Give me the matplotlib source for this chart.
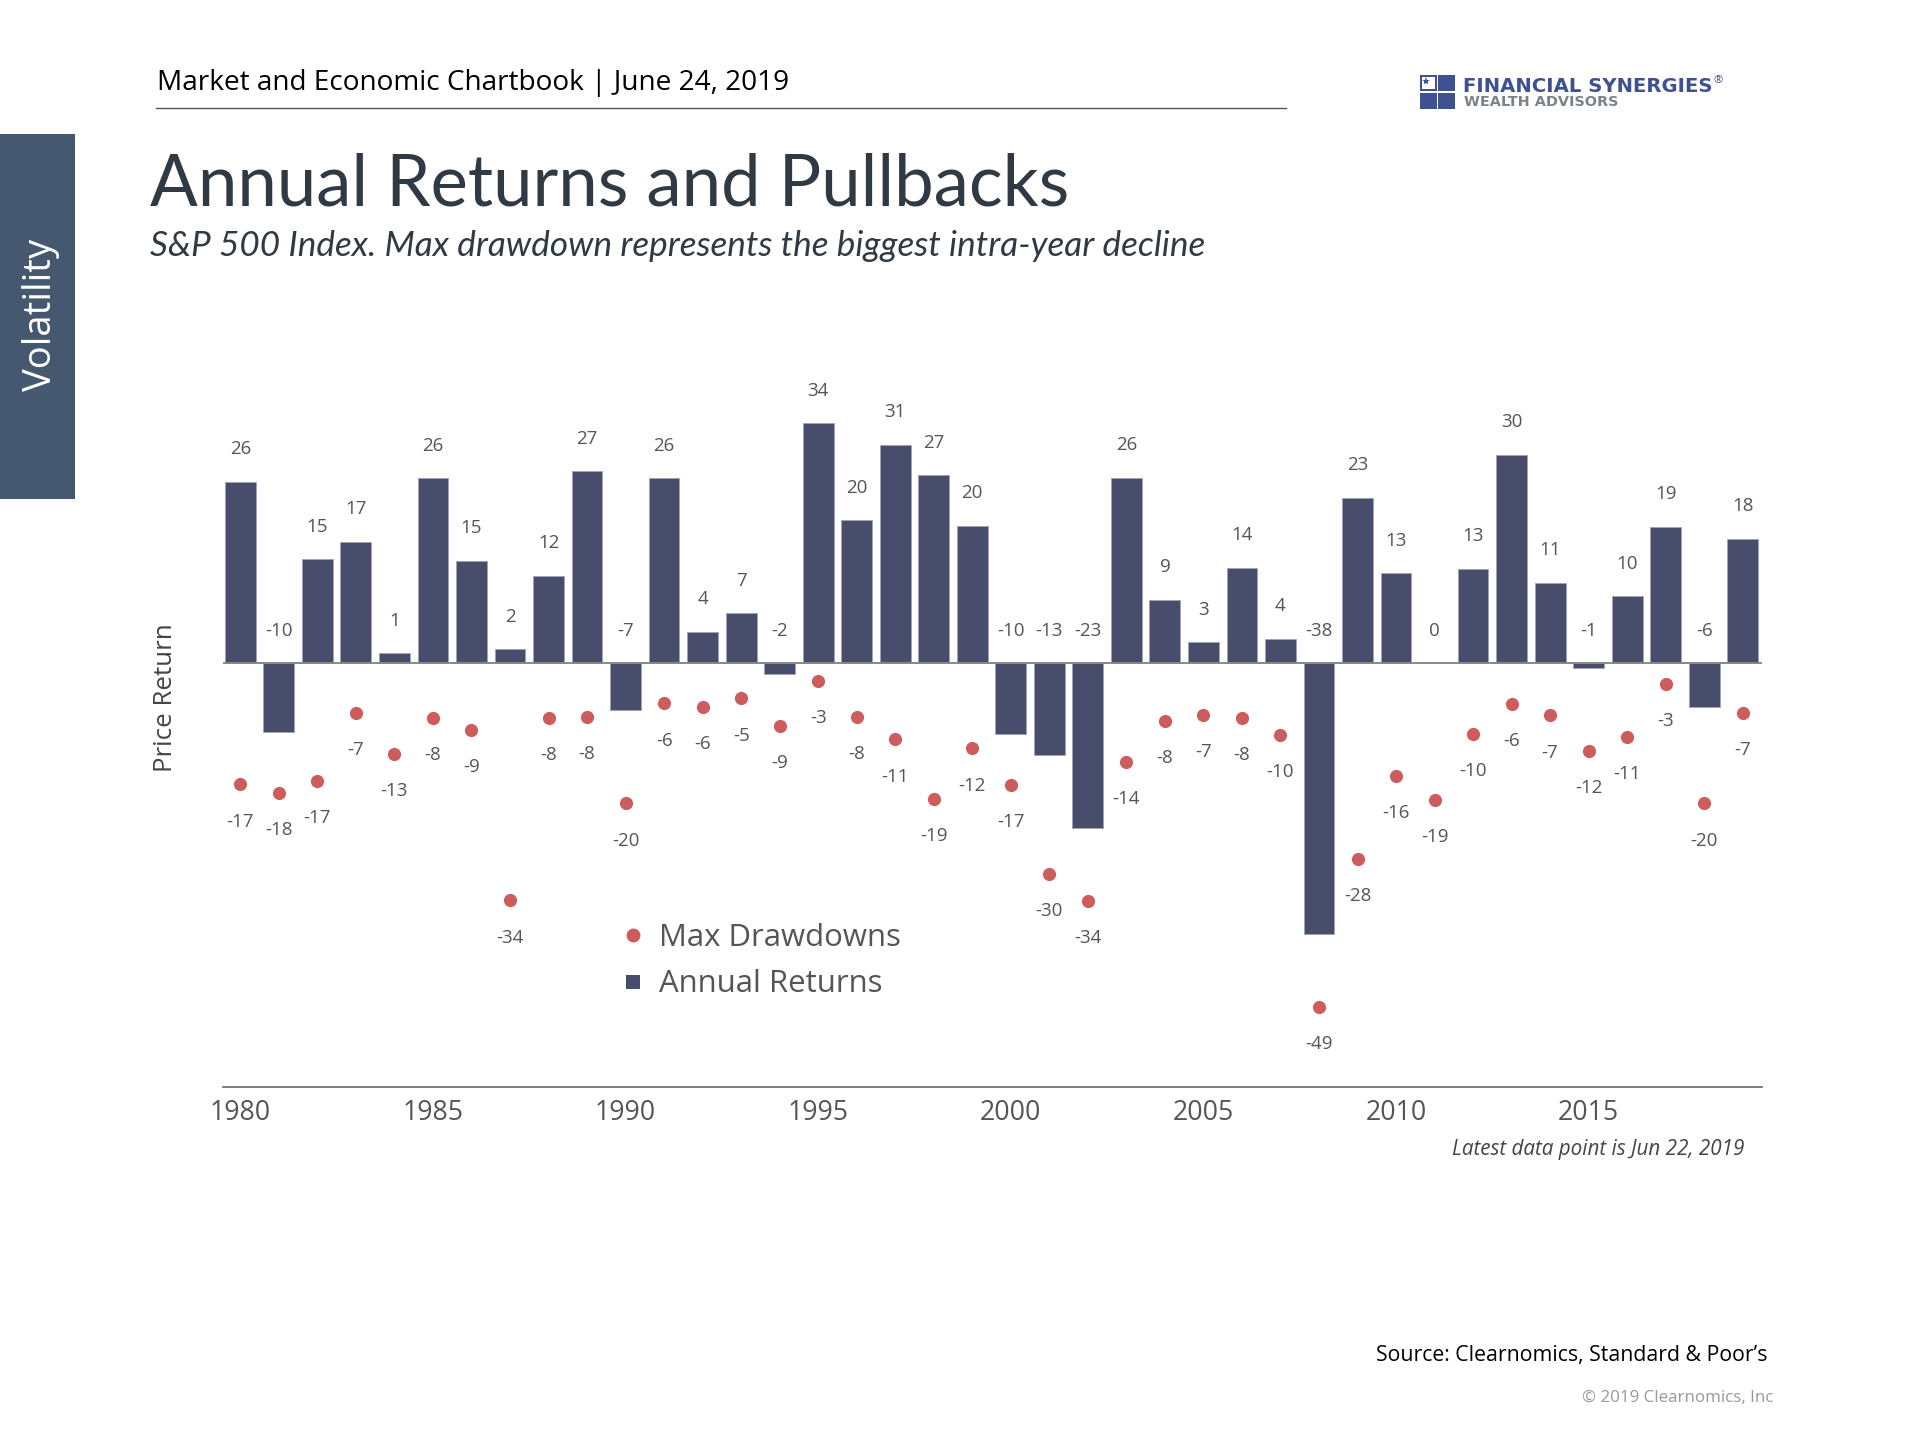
import matplotlib
matplotlib.use("Agg")
import matplotlib.pyplot as plt
from matplotlib.lines import Line2D
from matplotlib.patches import Rectangle

plt.rcParams['font.family'] = ['Open Sans', 'DejaVu Sans']

years = list(range(1980, 2020))
annual_returns = [25.8, -9.7, 14.8, 17.3, 1.4, 26.3, 14.6, 2.0, 12.4, 27.3,
                  -6.6, 26.3, 4.5, 7.1, -1.5, 34.1, 20.3, 31.0, 26.7, 19.5,
                  -10.1, -13.0, -23.4, 26.4, 9.0, 3.0, 13.6, 3.5, -38.5, 23.5,
                  12.8, 0.0, 13.4, 29.6, 11.4, -0.7, 9.5, 19.4, -6.2, 17.7]
return_labels = [26, -10, 15, 17, 1, 26, 15, 2, 12, 27,
                 -7, 26, 4, 7, -2, 34, 20, 31, 27, 20,
                 -10, -13, -23, 26, 9, 3, 14, 4, -38, 23,
                 13, 0, 13, 30, 11, -1, 10, 19, -6, 18]
drawdowns = [-17.2, -18.4, -16.7, -7.0, -12.9, -7.8, -9.5, -33.7, -7.8, -7.6,
             -19.9, -5.7, -6.2, -5.0, -8.9, -2.5, -7.6, -10.8, -19.3, -12.1,
             -17.3, -29.9, -33.8, -14.0, -8.2, -7.3, -7.8, -10.2, -48.8, -27.8,
             -16.0, -19.4, -10.0, -5.8, -7.4, -12.4, -10.5, -2.9, -19.9, -7.0]
drawdown_labels = [-17, -18, -17, -7, -13, -8, -9, -34, -8, -8,
                   -20, -6, -6, -5, -9, -3, -8, -11, -19, -12,
                   -17, -30, -34, -14, -8, -7, -8, -10, -49, -28,
                   -16, -19, -10, -6, -7, -12, -11, -3, -20, -7]
tick_years = [1980, 1985, 1990, 1995, 2000, 2005, 2010, 2015]

W, H = 1920, 1440
BAR = '#484d6b'
DOT = '#cd5c5c'
GREY = '#555555'
DARK = '#2f3a45'

fig = plt.figure(figsize=(W / 100, H / 100), dpi=100, facecolor='white')

# page furniture, in pixels
page = fig.add_axes([0, 0, 1, 1])
page.set_xlim(0, W)
page.set_ylim(H, 0)
page.axis('off')

page.add_patch(Rectangle((0, 134), 75, 365, color='#46586f', lw=0))
page.text(41, 315, 'Volatility', color='white', fontsize=27.5, rotation=90, ha='center', va='center')
page.text(157, 83, 'Market and Economic Chartbook | June 24, 2019', color='black', fontsize=20.2, va='center')
page.plot([156, 1286], [108, 108], color='#555555', lw=1)
page.text(150, 185, 'Annual Returns and Pullbacks', color=DARK, fontsize=50.9, family='Lato', va='center')
page.text(150, 246, 'S&P 500 Index. Max drawdown represents the biggest intra-year decline',
          color=DARK, fontsize=25.27, family='Lato', style='italic', va='center')
page.text(1744, 1150, 'Latest data point is Jun 22, 2019', color='#444444', fontsize=14.9, style='italic', ha='right', va='center')
page.text(1768, 1356, 'Source: Clearnomics, Standard & Poor\u2019s', color='black', fontsize=15.3, ha='right', va='center')
page.text(1773, 1398, '\u00a9 2019 Clearnomics, Inc', color='#999999', fontsize=12.2, ha='right', va='center')
page.text(166, 698, 'Price Return', color='#444444', fontsize=18.6, rotation=90, ha='center', va='center')

# logo
LOGO = '#3f5191'
for lx, ly in [(1420, 75), (1438, 75), (1420, 93), (1438, 93)]:
    page.add_patch(Rectangle((lx, ly), 17, 16, color=LOGO, lw=0))
page.add_patch(Rectangle((1422, 77), 13, 12, color='white', lw=0))
page.plot([1426], [81], marker='*', color=LOGO, ms=6, mew=0)
page.text(1463, 86, 'FINANCIAL SYNERGIES', color=LOGO, fontsize=14.1, fontweight='bold', family='DejaVu Sans', va='center')
page.text(1718, 81, '\u00ae', color=LOGO, fontsize=8, va='center', ha='center')
page.text(1464, 102, 'WEALTH ADVISORS', color='#7c8388', fontsize=10.4, fontweight='bold', family='DejaVu Sans', va='center')

# chart
ax = fig.add_axes([223 / W, (H - 1087) / H, (1762 - 223) / W, 739 / H])
ax.patch.set_alpha(0)
ax.bar(years, annual_returns, width=0.8, color=BAR, edgecolor='#a0a3b5', linewidth=0.6, zorder=2)
ax.scatter(years, drawdowns, s=90, color=DOT, zorder=3, linewidths=0)

ax.set_xlim(1979.55, 2019.5)
ax.set_ylim(-60.2, 44.8)
ax.axhline(0, color='#888888', lw=1.4, zorder=4)

for yr, val, lab in zip(years, annual_returns, return_labels):
    y = max(val, 0)
    ax.annotate(str(lab), (yr, y), xytext=(0, 23.5), textcoords='offset points', ha='center', va='center',
                color=GREY, fontsize=13.5)
for yr, val, lab in zip(years, drawdowns, drawdown_labels):
    ax.annotate(str(lab), (yr, val), xytext=(0, -26.8), textcoords='offset points', ha='center', va='center',
                color=GREY, fontsize=13.5)

for side in ['top', 'left', 'right']:
    ax.spines[side].set_visible(False)
ax.spines['bottom'].set_color('#666666')
ax.spines['bottom'].set_linewidth(1.2)
ax.set_yticks([])
ax.set_xticks(tick_years)
ax.set_xticklabels([str(t) for t in tick_years], fontsize=19.2, color=GREY)
ax.tick_params(axis='x', length=0, pad=9)

leg_handles = [Line2D([], [], ls='none', marker='o', ms=10, color=DOT, mew=0),
               Line2D([], [], ls='none', marker='s', ms=10, color=BAR, mew=0)]
ax.legend(leg_handles, ['Max Drawdowns', 'Annual Returns'], frameon=False, fontsize=22.4, labelcolor=GREY,
          loc='center left', bbox_to_anchor=(0.2565, 0.17), labelspacing=0.52, handlelength=1, handletextpad=0.33,
          borderpad=0, borderaxespad=0, numpoints=1)

fig.savefig('out.png', dpi=100)
